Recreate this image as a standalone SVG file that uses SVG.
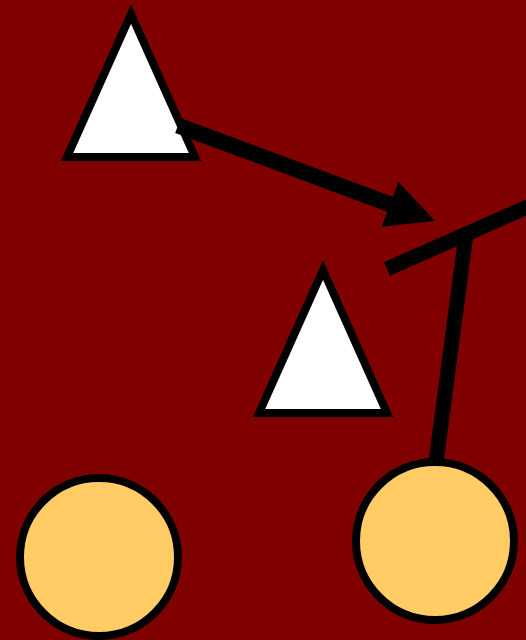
<svg xmlns="http://www.w3.org/2000/svg" width="526" height="640" viewBox="0 0 526 640">
  <style>
    .tri { fill: #ffffff; stroke: #000000; stroke-width: 8; stroke-linejoin: miter; }
    .circ { fill: #ffcc66; stroke: #000000; stroke-width: 8; }
    .conn { stroke: #000000; fill: none; stroke-linecap: butt; }
  </style>
  <defs>
    <marker id="arrow" markerUnits="userSpaceOnUse" markerWidth="48" markerHeight="48" refX="0" refY="24" orient="auto" overflow="visible">
      <path d="M0,0 L48,24 L0,48 Z" fill="#000000"/>
    </marker>
  </defs>
  <rect x="0" y="0" width="526" height="640" fill="#800000"/>
  <g id="node-triangle-1">
    <polygon class="tri" points="131,14 67,157 195,157"/>
  </g>
  <g id="node-triangle-2">
    <polygon class="tri" points="323,270 259,413 387,413"/>
  </g>
  <g id="node-circle-1">
    <circle class="circ" cx="99" cy="557" r="79"/>
  </g>
  <g id="node-circle-2">
    <circle class="circ" cx="435" cy="541" r="79"/>
  </g>
  <g id="connectors">
    <line class="conn" x1="178" y1="125.5" x2="390" y2="204.3" stroke-width="16" marker-end="url(#arrow)"/>
    <line class="conn" x1="387" y1="269" x2="545" y2="199.2" stroke-width="15"/>
    <line class="conn" x1="436" y1="462" x2="466" y2="234" stroke-width="15"/>
  </g>
</svg>
